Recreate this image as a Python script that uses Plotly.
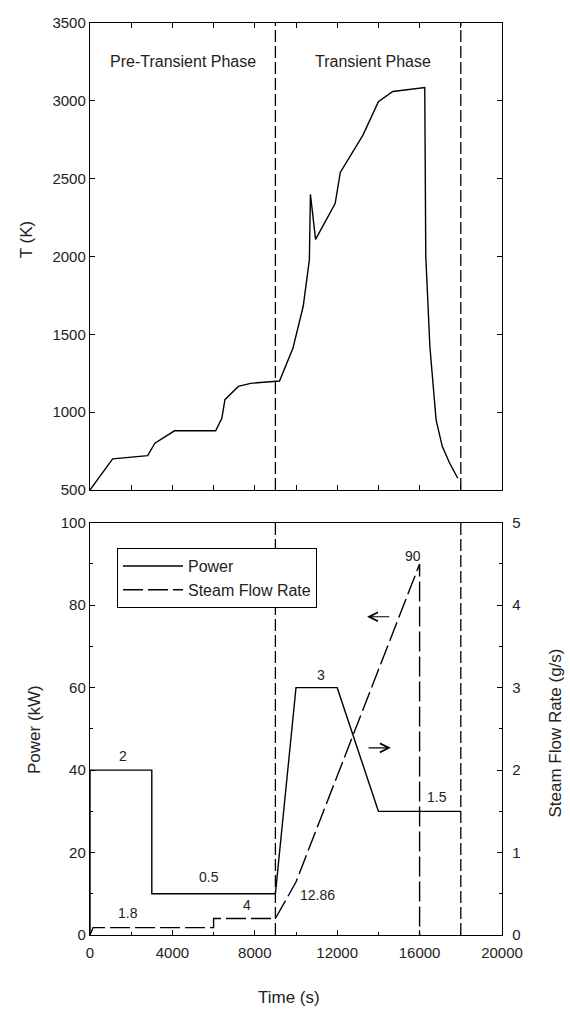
import plotly.graph_objects as go

# ---------------- data ----------------
# Top panel: temperature history
time_T = [0, 1100, 2800, 3150, 4100, 6100, 6400, 6550, 7200, 7800, 9200, 9850,
          10350, 10650, 10700, 10950, 11900, 12150, 13250, 14000, 14700, 16250,
          16300, 16500, 16800, 17100, 17450, 17850]
temp_K = [500, 700, 720, 800, 880, 880, 960, 1080, 1165, 1185, 1200, 1410,
          1680, 1980, 2400, 2110, 2340, 2540, 2780, 2995, 3060, 3085,
          2000, 1420, 950, 780, 675, 575]

# Bottom panel: power (solid, left axis) and steam flow rate (dashed, right axis)
time_power = [0, 0, 3000, 3000, 9000, 10000, 12000, 14000, 18000]
power_kW = [0, 40, 40, 10, 10, 60, 60, 30, 30]

time_steam = [0, 150, 6000, 6000, 9000, 10000, 16000, 16000]
steam_gs = [0, 0.09, 0.09, 0.2, 0.2, 0.643, 4.5, 0]

phase_bounds = [9000, 18000]
phase_labels = ["Pre-Transient Phase", "Transient Phase"]
phase_label_x = [4500, 13750]
phase_label_y = 3250

value_labels = ["2", "0.5", "3", "1.5", "1.8", "4", "12.86", "90"]
value_label_x = [1600, 5800, 11200, 16850, 1850, 7600, 11050, 15700]
value_label_y = [43.5, 14, 63, 33.5, 5.3, 7.2, 9.8, 92]

x_ticks = [0, 4000, 8000, 12000, 16000, 20000]

FONT = "Liberation Sans, Arial, sans-serif"
TXT = "#222"

fig = go.Figure()

fig.add_trace(go.Scatter(x=time_T, y=temp_K, mode="lines",
                         line=dict(color="black", width=1.4),
                         xaxis="x", yaxis="y", showlegend=False))

fig.add_trace(go.Scatter(x=time_power, y=power_kW, mode="lines", name="Power",
                         line=dict(color="black", width=1.4),
                         xaxis="x2", yaxis="y2"))
fig.add_trace(go.Scatter(x=time_steam, y=steam_gs, mode="lines",
                         name="Steam Flow Rate",
                         line=dict(color="black", width=1.4, dash="20px,5px"),
                         xaxis="x2", yaxis="y3"))

# phase separators in both panels
for xb in phase_bounds:
    for xr, yr in (("x", "y domain"), ("x2", "y2 domain")):
        fig.add_shape(type="line", xref=xr, yref=yr, x0=xb, x1=xb, y0=0, y1=1,
                      line=dict(color="black", width=1.3, dash="12px,4px"))

ann = []
for txt, xv in zip(phase_labels, phase_label_x):
    ann.append(dict(text=txt, x=xv, y=phase_label_y, xref="x", yref="y",
                    showarrow=False, font=dict(size=16, color=TXT, family=FONT)))
for txt, xv, yv in zip(value_labels, value_label_x, value_label_y):
    ann.append(dict(text=txt, x=xv, y=yv, xref="x2", yref="y2",
                    showarrow=False, font=dict(size=14, color=TXT, family=FONT)))

# axis-pointing arrows
ann.append(dict(x=13450, y=77.2, ax=14600, ay=77.2, xref="x2", yref="y2",
                axref="x2", ayref="y2", text="", showarrow=True, arrowhead=5,
                arrowsize=1.6, arrowwidth=1.1, arrowcolor="black"))
ann.append(dict(x=14600, y=45.4, ax=13450, ay=45.4, xref="x2", yref="y2",
                axref="x2", ayref="y2", text="", showarrow=True, arrowhead=5,
                arrowsize=1.6, arrowwidth=1.1, arrowcolor="black"))

# axis titles
title_font = dict(size=17, color=TXT, family=FONT)
ann.append(dict(text="T (K)", x=-0.155, y=0.762, xref="paper", yref="paper",
                xanchor="center", yanchor="middle",
                textangle=-90, showarrow=False, font=title_font))
ann.append(dict(text="Power (kW)", x=-0.133, y=0.225, xref="paper", yref="paper",
                xanchor="center", yanchor="middle",
                textangle=-90, showarrow=False, font=title_font))
ann.append(dict(text="Steam Flow Rate (g/s)", x=1.129, y=0.221, xref="paper",
                yref="paper", xanchor="center", yanchor="middle",
                textangle=-90, showarrow=False, font=title_font))
ann.append(dict(text="Time (s)", x=0.483, y=-0.069, xref="paper", yref="paper",
                xanchor="center", yanchor="middle",
                showarrow=False, font=title_font))

axis_common = dict(showline=True, linecolor="black", linewidth=1.4,
                   ticks="inside", ticklen=5, tickcolor="black", tickwidth=1.2,
                   showgrid=False, zeroline=False,
                   tickfont=dict(size=15, color=TXT, family=FONT))

fig.update_layout(
    width=570, height=1012,
    margin=dict(l=90, r=68, t=23, b=77),
    paper_bgcolor="white", plot_bgcolor="white",
    font=dict(family=FONT, color=TXT),
    xaxis=dict(axis_common, domain=[0, 1], anchor="y", range=[0, 20000],
               dtick=2000, showticklabels=False, mirror="ticks"),
    yaxis=dict(axis_common, domain=[0.488, 1], anchor="x", range=[500, 3500],
               dtick=500, mirror="ticks"),
    xaxis2=dict(axis_common, domain=[0, 1], anchor="y2", range=[0, 20000],
                tickvals=x_ticks, tickformat="d", mirror=True,
                ticklabelstandoff=4,
                minor=dict(dtick=2000, ticks="inside", ticklen=3,
                           tickcolor="black")),
    yaxis2=dict(axis_common, domain=[0, 0.452], anchor="x2", range=[0, 100],
                dtick=20,
                minor=dict(dtick=10, ticks="inside", ticklen=3,
                           tickcolor="black")),
    yaxis3=dict(axis_common, overlaying="y2", side="right", anchor="x2",
                range=[0, 5], dtick=1, ticklabelstandoff=6,
                minor=dict(dtick=0.5, ticks="inside", ticklen=3,
                           tickcolor="black")),
    legend=dict(x=0.0655, y=0.4243, xanchor="left", yanchor="top",
                bgcolor="white", bordercolor="black", borderwidth=1,
                font=dict(size=16, color=TXT, family=FONT),
                itemwidth=60, tracegroupgap=0),
    annotations=ann,
)

fig.write_html("out.html")
